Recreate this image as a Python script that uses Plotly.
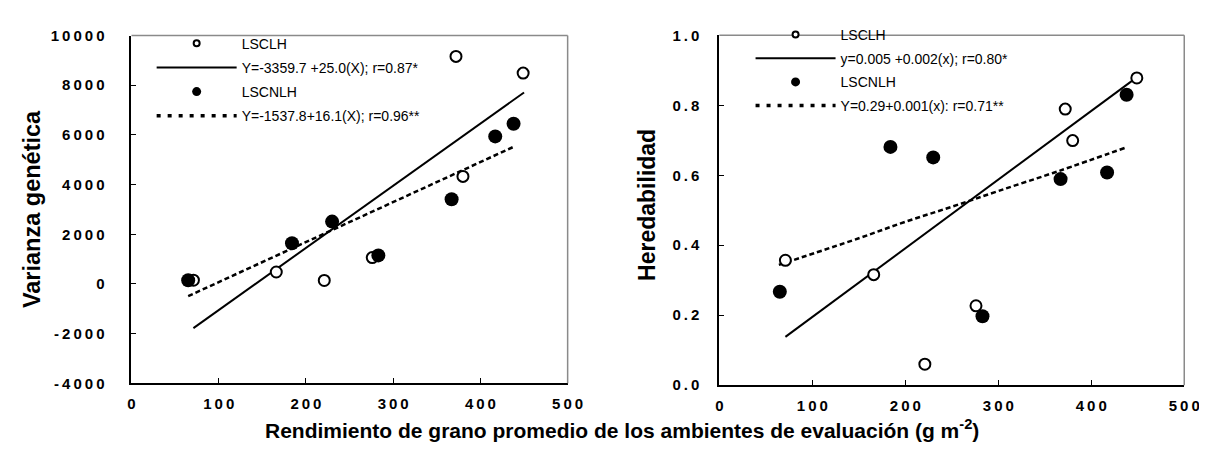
import plotly.graph_objects as go

# ---------------- data ----------------
x_open = [71, 166, 221, 276, 372, 380, 449]          # LSCLH
x_filled = [65, 184, 230, 283, 367, 417, 438]        # LSCNLH

vg_open = [150, 480, 140, 1060, 9160, 4330, 8490]
vg_filled = [150, 1640, 2510, 1150, 3410, 5940, 6450]

h_open = [0.357, 0.316, 0.060, 0.227, 0.789, 0.699, 0.878]
h_filled = [0.267, 0.681, 0.651, 0.197, 0.589, 0.608, 0.830]

vg_fit_open_x = [71, 450]
vg_fit_open_y = [-1780, 7710]
vg_fit_filled_x = [65, 438]
vg_fit_filled_y = [-490, 5520]

h_fit_open_x = [71, 446]
h_fit_open_y = [0.138, 0.874]
h_fit_filled_x = [64, 150, 200, 250, 300, 365, 437]
h_fit_filled_y = [0.344, 0.420, 0.467, 0.510, 0.555, 0.612, 0.679]

x_ticks = [0, 100, 200, 300, 400, 500]
vg_ticks = [-4000, -2000, 0, 2000, 4000, 6000, 8000, 10000]
h_ticks = [0.0, 0.2, 0.4, 0.6, 0.8, 1.0]
h_tick_labels = ["0.0", "0.2", "0.4", "0.6", "0.8", "1.0"]

left_labels = ["LSCLH", "Y=-3359.7 +25.0(X); r=0.87*", "LSCNLH", "Y=-1537.8+16.1(X); r=0.96**"]
right_labels = ["LSCLH", "y=0.005 +0.002(x); r=0.80*", "LSCNLH", "Y=0.29+0.001(x): r=0.71**"]

x_title = "Rendimiento de grano promedio de los ambientes de evaluación (g m<sup>-2</sup>)"
vg_title = "Varianza genética"
h_title = "Heredabilidad"

# ---------------- styling ----------------
W, H = 1207, 449
FONT = "Liberation Sans, Arial, sans-serif"


def spaced(s):
    return "\u2009".join(s)


def px_x(p):
    return p / W


def px_y(p):
    return 1 - p / H


fig = go.Figure()

open_marker = dict(symbol="circle", size=11, color="white", line=dict(color="black", width=2))
filled_marker = dict(symbol="circle", size=14, color="black", line=dict(color="black", width=0))
dash_fit = dict(color="black", width=2.5, dash="5px,3px")

# ---- left panel ----
fig.add_trace(go.Scatter(x=vg_fit_open_x, y=vg_fit_open_y, mode="lines",
                         line=dict(color="black", width=2), xaxis="x", yaxis="y", showlegend=False))
fig.add_trace(go.Scatter(x=vg_fit_filled_x, y=vg_fit_filled_y, mode="lines",
                         line=dash_fit, xaxis="x", yaxis="y", showlegend=False))
fig.add_trace(go.Scatter(x=x_open, y=vg_open, mode="markers", marker=open_marker,
                         xaxis="x", yaxis="y", showlegend=False))
fig.add_trace(go.Scatter(x=x_filled, y=vg_filled, mode="markers", marker=filled_marker,
                         xaxis="x", yaxis="y", showlegend=False))

# ---- right panel ----
fig.add_trace(go.Scatter(x=h_fit_open_x, y=h_fit_open_y, mode="lines",
                         line=dict(color="black", width=2), xaxis="x2", yaxis="y2", showlegend=False))
fig.add_trace(go.Scatter(x=h_fit_filled_x, y=h_fit_filled_y, mode="lines", line_shape="spline",
                         line=dash_fit, xaxis="x2", yaxis="y2", showlegend=False))
fig.add_trace(go.Scatter(x=x_open, y=h_open, mode="markers", marker=open_marker,
                         xaxis="x2", yaxis="y2", showlegend=False))
fig.add_trace(go.Scatter(x=x_filled, y=h_filled, mode="markers", marker=filled_marker,
                         xaxis="x2", yaxis="y2", showlegend=False))

# ---- legend entries ----
leg_open = dict(symbol="circle", size=6, color="white", line=dict(color="black", width=2))
leg_filled = dict(symbol="circle", size=9, color="black", line=dict(width=0))
for legname, labels, xa, ya in [("legend", left_labels, "x", "y"), ("legend2", right_labels, "x2", "y2")]:
    specs = [
        dict(mode="markers", marker=leg_open),
        dict(mode="lines", line=dict(color="black", width=2)),
        dict(mode="markers", marker=leg_filled),
        dict(mode="lines", line=dict(color="black", width=3.5, dash="4px,7px")),
    ]
    for i, (lab, sp) in enumerate(zip(labels, specs)):
        fig.add_trace(go.Scatter(x=[None], y=[None], name=lab, legend=legname,
                                 legendgroup=f"{legname}_{i}", xaxis=xa, yaxis=ya, **sp))

tickfont = dict(family=FONT, size=15, color="black", weight="bold")

common_x = dict(range=[0, 500], tickvals=x_ticks, ticktext=[spaced(str(v)) for v in x_ticks],
                ticks="inside", ticklen=5, tickwidth=1, tickcolor="black",
                showline=True, linecolor="black", linewidth=2, showgrid=False, zeroline=False,
                tickfont=tickfont, ticklabelstandoff=6, fixedrange=True)

fig.update_layout(
    width=W, height=H, autosize=False,
    margin=dict(l=0, r=0, t=0, b=0),
    paper_bgcolor="white", plot_bgcolor="white",
    font=dict(family=FONT, color="black"),
    xaxis=dict(domain=[px_x(121.5), px_x(565)], anchor="y", **common_x),
    yaxis=dict(domain=[px_y(380.7), px_y(19.3)], anchor="x", range=[-4000, 10000],
               tickvals=vg_ticks, ticktext=[spaced(str(v)) for v in vg_ticks],
               ticks="inside", ticklen=5, tickwidth=1, tickcolor="black",
               showline=True, linecolor="black", linewidth=2, showgrid=False, zeroline=False,
               tickfont=tickfont, ticklabelstandoff=22, fixedrange=True),
    xaxis2=dict(domain=[px_x(719.3), px_x(1192)], anchor="y2", **common_x),
    yaxis2=dict(domain=[px_y(382.7), px_y(19)], anchor="x2", range=[0, 1],
                tickvals=h_ticks, ticktext=[spaced(t) for t in h_tick_labels],
                ticks="inside", ticklen=5, tickwidth=1, tickcolor="black",
                showline=True, linecolor="black", linewidth=2, showgrid=False, zeroline=False,
                tickfont=tickfont, ticklabelstandoff=15, fixedrange=True),
    legend=dict(x=px_x(142), y=px_y(11), xanchor="left", yanchor="top",
                bgcolor="rgba(0,0,0,0)", borderwidth=0, itemwidth=80,
                traceorder="grouped", tracegroupgap=3,
                font=dict(family=FONT, size=14, color="black")),
    legend2=dict(x=px_x(751), y=px_y(2), xanchor="left", yanchor="top",
                 bgcolor="rgba(0,0,0,0)", borderwidth=0, itemwidth=80,
                 traceorder="grouped", tracegroupgap=2.5,
                 font=dict(family=FONT, size=14, color="black")),
    showlegend=True,
)

# gray top/right frame lines
for xa, ya in [("x", "y"), ("x2", "y2")]:
    fig.add_shape(type="line", xref=f"{xa} domain", yref=f"{ya} domain", x0=0, x1=1, y0=1, y1=1,
                  line=dict(color="#8a8a8a", width=1.5))
    fig.add_shape(type="line", xref=f"{xa} domain", yref=f"{ya} domain", x0=1, x1=1, y0=0, y1=1,
                  line=dict(color="#8a8a8a", width=1.5))

# axis titles
fig.add_annotation(text=x_title, xref="paper", yref="paper", x=px_x(620), y=px_y(428),
                   xanchor="center", yanchor="middle", showarrow=False,
                   font=dict(family=FONT, size=21, color="black", weight="bold"))
fig.add_annotation(text=vg_title, xref="paper", yref="paper", x=px_x(21), y=px_y(200),
                   xanchor="center", yanchor="middle", showarrow=False, textangle=-90,
                   font=dict(family=FONT, size=23.5, color="black", weight="bold"))
fig.add_annotation(text=h_title, xref="paper", yref="paper", x=px_x(645), y=px_y(195),
                   xanchor="center", yanchor="middle", showarrow=False, textangle=-90,
                   font=dict(family=FONT, size=23, color="black", weight="bold"))

fig.write_html("out.html")
